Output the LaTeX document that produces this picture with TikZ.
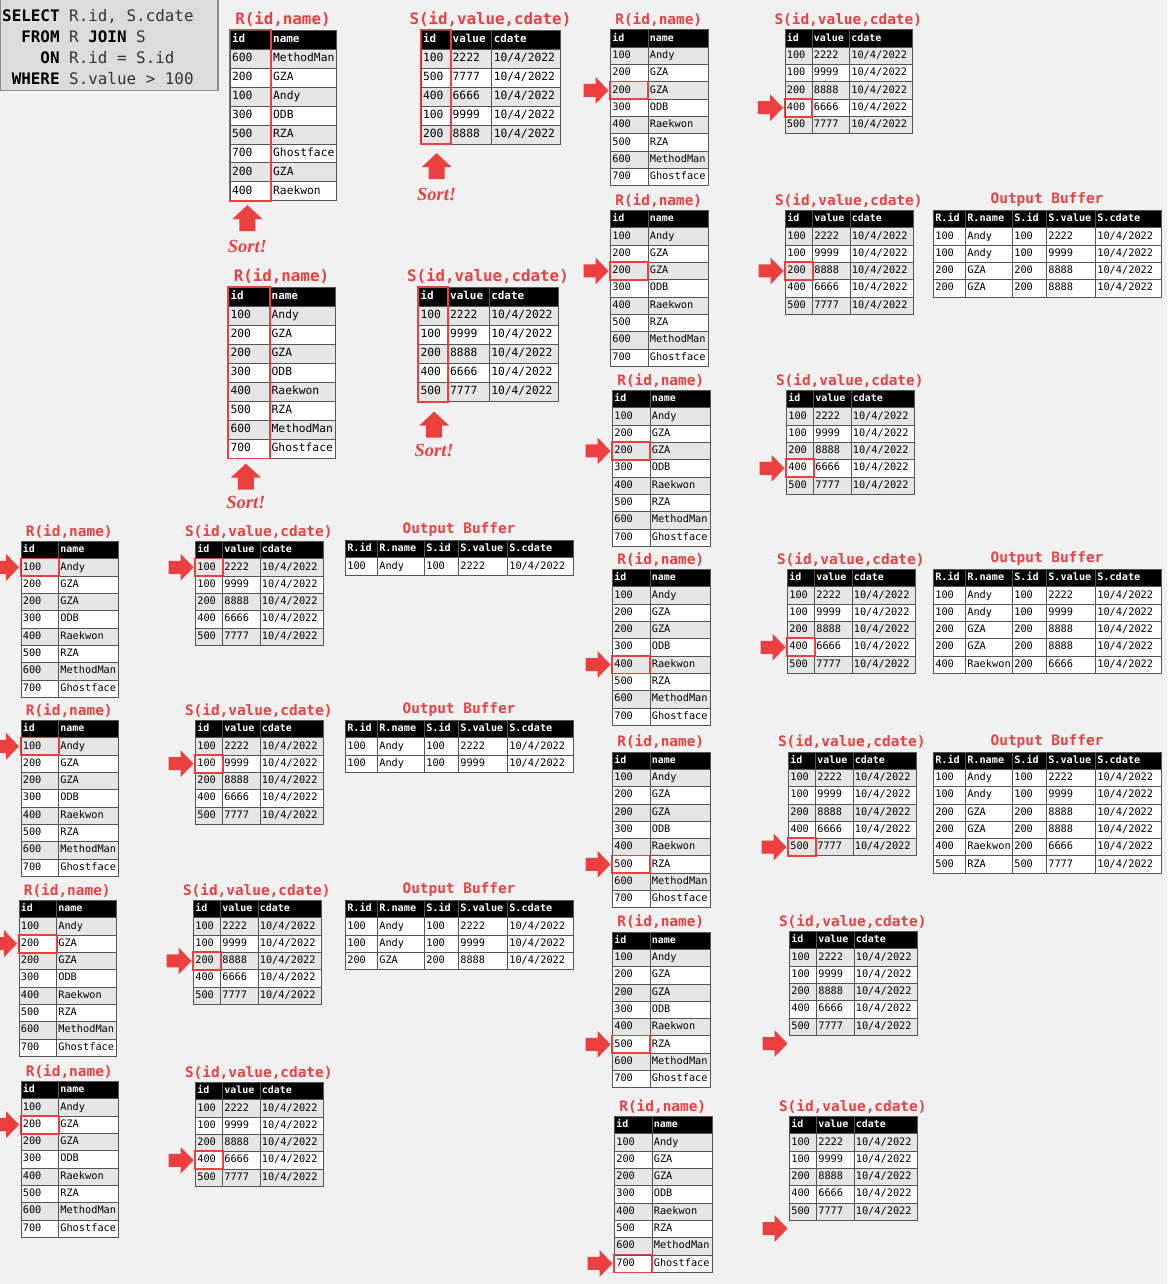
\documentclass[tikz,border=0pt]{standalone}
\usepackage{fontspec}
\setmonofont{DejaVu Sans Mono}
\newfontfamily\sortfont{Liberation Serif}
\usetikzlibrary{calc}
\definecolor{bgc}{HTML}{F1F1F1}
\definecolor{hired}{HTML}{EC4040}
\definecolor{rowgray}{HTML}{E6E6E6}
\definecolor{gridc}{HTML}{555555}
\definecolor{sqlfill}{HTML}{DCDCDC}
\definecolor{sqlborder}{HTML}{8C8C8C}
\definecolor{sqltxt}{HTML}{333333}
\tikzset{
  ttl/.style={font=\ttfamily\bfseries\fontsize{14.4}{16}\selectfont, text=hired, inner sep=0pt},
  cellbase/.style={anchor=north west, inner xsep=2pt, inner ysep=0pt, draw=gridc, line width=0.6pt, text height=7.4pt, text depth=2pt},
  hcell/.style={cellbase, fill=black, text=white, font=\ttfamily\bfseries\fontsize{10}{12}\selectfont, minimum height=17.4pt},
  dcell/.style={cellbase, text=black, font=\ttfamily\fontsize{10.3}{12}\selectfont, minimum height=17.3pt},
  ohcell/.style={hcell, font=\ttfamily\bfseries\fontsize{10.2}{12}\selectfont},
  hl/.style={draw=hired, line width=1.8pt},
  arr/.style={fill=hired},
  sortlbl/.style={font=\sortfont\bfseries\itshape\fontsize{18.5}{20}\selectfont, text=hired, inner sep=0pt},
  sqlbox/.style={draw=sqlborder, fill=sqlfill, line width=1.5pt, inner sep=0pt},
}
\def\RowsRsorted{100/Andy,200/GZA,200/GZA,300/ODB,400/Raekwon,500/RZA,600/MethodMan,700/Ghostface}
\def\RowsRunsorted{600/MethodMan,200/GZA,100/Andy,300/ODB,500/RZA,700/Ghostface,200/GZA,400/Raekwon}
\def\RowsSsorted{100/2222,100/9999,200/8888,400/6666,500/7777}
\def\RowsSunsorted{100/2222,500/7777,400/6666,100/9999,200/8888}
\def\OutA{100/Andy/100/2222}
\def\OutB{100/Andy/100/2222,100/Andy/100/9999}
\def\OutC{100/Andy/100/2222,100/Andy/100/9999,200/GZA/200/8888}
\def\OutD{100/Andy/100/2222,100/Andy/100/9999,200/GZA/200/8888,200/GZA/200/8888}
\def\OutE{100/Andy/100/2222,100/Andy/100/9999,200/GZA/200/8888,200/GZA/200/8888,400/Raekwon/200/6666}
\def\OutF{100/Andy/100/2222,100/Andy/100/9999,200/GZA/200/8888,200/GZA/200/8888,400/Raekwon/200/6666,500/RZA/500/7777}
% R table: prefix, x, y, scale, rows
\newcommand{\RTab}[5]{%
  \begin{scope}[shift={(#2,#3)},scale=#4,transform shape]
    \node[ttl] (#1-t) at (48.75,-9.5) {R(id,name)};
    \node[hcell] (#1-h1) at (0,0) {\hbox to 33.5pt{id\hfil}};
    \node[hcell] (#1-h2) at (37.5,0) {\hbox to 56pt{name\hfil}};
    \foreach \ca/\cb [count=\ci] in #5 {
      \pgfmathsetmacro{\yy}{17.4+(\ci-1)*17.3}
      \ifodd\ci\relax\def\rf{rowgray}\else\def\rf{white}\fi
      \node[dcell,fill=\rf] (#1-\ci-1) at (0,\yy) {\hbox to 33.5pt{\ca\hfil}};
      \node[dcell,fill=\rf] (#1-\ci-2) at (37.5,\yy) {\hbox to 56pt{\cb\hfil}};
    }
  \end{scope}}
% S table: prefix, x, y, scale, rows
\newcommand{\STab}[5]{%
  \begin{scope}[shift={(#2,#3)},scale=#4,transform shape]
    \node[ttl] (#1-t) at (63.75,-9.5) {S(id,value,cdate)};
    \node[hcell] (#1-h1) at (0,0) {\hbox to 23pt{id\hfil}};
    \node[hcell] (#1-h2) at (27,0) {\hbox to 33.5pt{value\hfil}};
    \node[hcell] (#1-h3) at (64.5,0) {\hbox to 59pt{cdate\hfil}};
    \foreach \ca/\cb [count=\ci] in #5 {
      \pgfmathsetmacro{\yy}{17.4+(\ci-1)*17.3}
      \ifodd\ci\relax\def\rf{rowgray}\else\def\rf{white}\fi
      \node[dcell,fill=\rf] (#1-\ci-1) at (0,\yy) {\hbox to 23pt{\ca\hfil}};
      \node[dcell,fill=\rf] (#1-\ci-2) at (27,\yy) {\hbox to 33.5pt{\cb\hfil}};
      \node[dcell,fill=\rf] (#1-\ci-3) at (64.5,\yy) {\hbox to 59pt{10/4/2022\hfil}};
    }
    \coordinate (#1-end) at (0,112.55);
  \end{scope}}
% Output buffer: prefix, x, y, rows
\newcommand{\OTab}[4]{%
  \begin{scope}[shift={(#2,#3)}]
    \node[ttl] (#1-t) at (114,-10) {Output Buffer};
    \node[ohcell] (#1-h1) at (0,0) {\hbox to 28pt{R.id\hfil}};
    \node[ohcell] (#1-h2) at (32,0) {\hbox to 43pt{R.name\hfil}};
    \node[ohcell] (#1-h3) at (79,0) {\hbox to 30pt{S.id\hfil}};
    \node[ohcell] (#1-h4) at (113,0) {\hbox to 45pt{S.value\hfil}};
    \node[ohcell] (#1-h5) at (162,0) {\hbox to 62pt{S.cdate\hfil}};
    \foreach \ca/\cb/\cc/\cd [count=\ci] in #4 {
      \pgfmathsetmacro{\yy}{17.4+(\ci-1)*17.3}
      \node[dcell,fill=white] (#1-\ci-1) at (0,\yy) {\hbox to 28pt{\ca\hfil}};
      \node[dcell,fill=white] (#1-\ci-2) at (32,\yy) {\hbox to 43pt{\cb\hfil}};
      \node[dcell,fill=white] (#1-\ci-3) at (79,\yy) {\hbox to 30pt{\cc\hfil}};
      \node[dcell,fill=white] (#1-\ci-4) at (113,\yy) {\hbox to 45pt{\cd\hfil}};
      \node[dcell,fill=white] (#1-\ci-5) at (162,\yy) {\hbox to 62pt{10/4/2022\hfil}};
    }
  \end{scope}}
% right-pointing block arrow, tip just left of the given point
\newcommand{\PtR}[1]{\fill[arr] ($(#1)+(-1.5,0)$) -- ++(-13,-13.5) -- ++(0,7) -- ++(-12,0) -- ++(0,13) -- ++(12,0) -- ++(0,7) -- cycle;}
% upward block arrow below a point: point, gap, x offset
\newcommand{\PtU}[3]{\fill[arr] ($(#1)+(#3,#2)$) -- ++(15,14) -- ++(-7,0) -- ++(0,12) -- ++(-16,0) -- ++(0,-12) -- ++(-7,0) -- cycle;}
\newcommand{\HL}[1]{\draw[hl] (#1.north west) rectangle (#1.south east);}
\begin{document}
\begin{tikzpicture}[x=1pt,y=-1pt]
\fill[bgc] (0,0) rectangle (1167,1284);
\useasboundingbox (0,0) rectangle (1167,1284);
% SQL box
\node[sqlbox, anchor=north west, minimum width=218pt, minimum height=91pt] (sqlbox) at (-1,-1) {};
\node[anchor=north west, inner sep=0pt, align=left, text=sqltxt, font=\ttfamily\fontsize{15.9}{21}\selectfont] (sqltext) at (2,9)
 {{\color{black}\bfseries SELECT} R.id, S.cdate\\
  \phantom{SE}{\color{black}\bfseries FROM} R {\color{black}\bfseries JOIN} S\\
  \phantom{SELE}{\color{black}\bfseries ON} R.id = S.id\\
  \phantom{S}{\color{black}\bfseries WHERE} S.value > 100};
% ---------- sorting phase ----------
\RTab{Ra}{229.5}{29.5}{1.097}{\RowsRunsorted}
\STab{Sa}{420.5}{29.5}{1.097}{\RowsSunsorted}
\RTab{Rb}{228}{287}{1.097}{\RowsRsorted}
\STab{Sb}{418}{287}{1.097}{\RowsSsorted}
\draw[hl] (Ra-h1.north west) rectangle (Ra-8-1.south east);
\draw[hl] (Sa-h1.north west) rectangle (Sa-5-1.south east);
\draw[hl] (Rb-h1.north west) rectangle (Rb-8-1.south east);
\draw[hl] (Sb-h1.north west) rectangle (Sb-5-1.south east);
\PtU{Ra-8-1.south}{4}{-3}
\PtU{Sa-5-1.south}{9}{1}
\PtU{Rb-8-1.south}{5}{-3}
\PtU{Sb-5-1.south}{10}{1}
\node[sortlbl] (Ra-sort) at ($(Ra-8-1.south)+(-3,45)$) {Sort!};
\node[sortlbl] (Sa-sort) at ($(Sa-5-1.south)+(1,50)$) {Sort!};
\node[sortlbl] (Rb-sort) at ($(Rb-8-1.south)+(-3,44)$) {Sort!};
\node[sortlbl] (Sb-sort) at ($(Sb-5-1.south)+(1,49)$) {Sort!};
% ---------- merge phase, left column ----------
\RTab{R1}{20.5}{541}{1}{\RowsRsorted}
\STab{S1}{195}{541}{1}{\RowsSsorted}
\OTab{O1}{345}{540}{\OutA}
\HL{R1-1-1}\PtR{R1-1-1.west}
\HL{S1-1-1}\PtR{S1-1-1.west}
\RTab{R2}{20.5}{720}{1}{\RowsRsorted}
\STab{S2}{195}{720}{1}{\RowsSsorted}
\OTab{O2}{345}{720}{\OutB}
\HL{R2-1-1}\PtR{R2-1-1.west}
\HL{S2-2-1}\PtR{S2-2-1.west}
\RTab{R3}{18.5}{900}{1}{\RowsRsorted}
\STab{S3}{193}{900}{1}{\RowsSsorted}
\OTab{O3}{345}{900}{\OutC}
\HL{R3-2-1}\PtR{R3-2-1.west}
\HL{S3-3-1}\PtR{S3-3-1.west}
\RTab{R4}{20.5}{1081}{1}{\RowsRsorted}
\STab{S4}{195}{1082}{1}{\RowsSsorted}
\HL{R4-2-1}\PtR{R4-2-1.west}
\HL{S4-4-1}\PtR{S4-4-1.west}
% ---------- merge phase, right column ----------
\RTab{R5}{610}{29.5}{1}{\RowsRsorted}
\STab{S5}{784.5}{29.5}{1}{\RowsSsorted}
\HL{R5-3-1}\PtR{R5-3-1.west}
\HL{S5-4-1}\PtR{S5-4-1.west}
\RTab{R6}{610}{210}{1}{\RowsRsorted}
\STab{S6}{785}{210}{1}{\RowsSsorted}
\OTab{O6}{933}{210}{\OutD}
\HL{R6-3-1}\PtR{R6-3-1.west}
\HL{S6-3-1}\PtR{S6-3-1.west}
\RTab{R7}{612}{390}{1}{\RowsRsorted}
\STab{S7}{786}{390}{1}{\RowsSsorted}
\HL{R7-3-1}\PtR{R7-3-1.west}
\HL{S7-4-1}\PtR{S7-4-1.west}
\RTab{R8}{612}{569}{1}{\RowsRsorted}
\STab{S8}{787}{569}{1}{\RowsSsorted}
\OTab{O8}{933}{569}{\OutE}
\HL{R8-5-1}\PtR{R8-5-1.west}
\HL{S8-4-1}\PtR{S8-4-1.west}
\RTab{R9}{612}{751.5}{1}{\RowsRsorted}
\STab{S9}{788}{751.5}{1}{\RowsSsorted}
\OTab{O9}{933}{751.5}{\OutF}
\HL{R9-6-1}\PtR{R9-6-1.west}
\HL{S9-5-1}\PtR{S9-5-1.west}
\RTab{R10}{612}{931.5}{1}{\RowsRsorted}
\STab{S10}{789}{931}{1}{\RowsSsorted}
\HL{R10-6-1}\PtR{R10-6-1.west}
\PtR{S10-end}
\RTab{R11}{614}{1116}{1}{\RowsRsorted}
\STab{S11}{789}{1116}{1}{\RowsSsorted}
\HL{R11-8-1}\PtR{R11-8-1.west}
\PtR{S11-end}
\end{tikzpicture}
\end{document}
